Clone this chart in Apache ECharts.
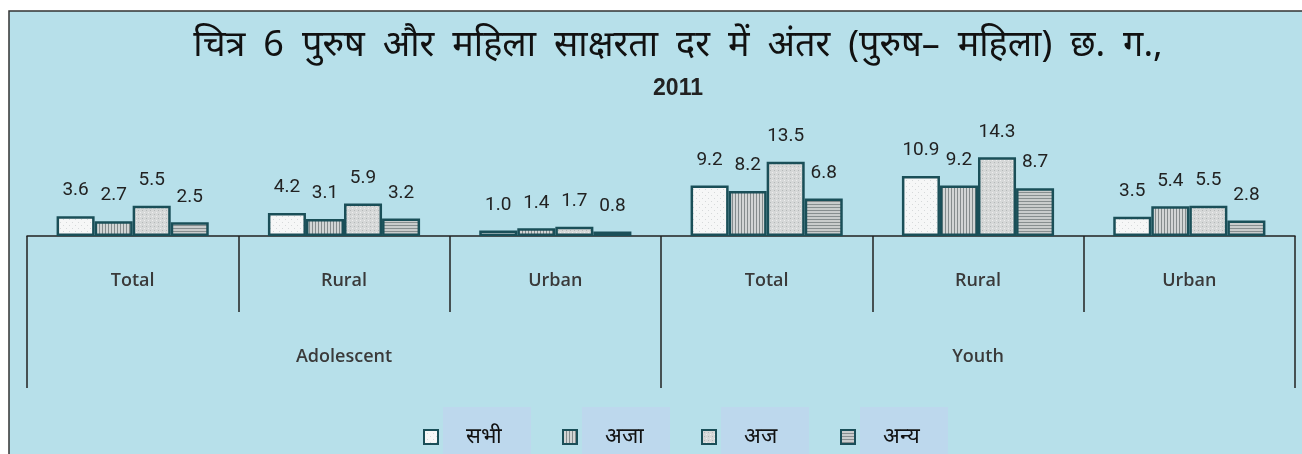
<!DOCTYPE html>
<html>
<head>
<meta charset="utf-8">
<script src="https://cdn.jsdelivr.net/npm/echarts@6/dist/echarts.min.js"></script>
<style>
  html, body { margin: 0; padding: 0; background: #fff; }
  #chart { width: 1302px; height: 454px; }
</style>
</head>
<body>
<div id="chart"></div>
<script>
// 数据
const titleLine = "चित्र 6 पुरुष और महिला साक्षरता दर में अंतर (पुरुष– महिला) छ. ग.,";
const subCategories = ["Total", "Rural", "Urban", "Total", "Rural", "Urban"];
const groupCategories = ["Adolescent", "Youth"];
const seriesNames = ["सभी", "अजा", "अज", "अन्य"];
const sabhi = [3.6, 4.2, 1.0, 9.2, 10.9, 3.5];
const aja = [2.7, 3.1, 1.4, 8.2, 9.2, 5.4];
const ajja = [5.5, 5.9, 1.7, 13.5, 14.3, 5.5];
const anya = [2.5, 3.2, 0.8, 6.8, 8.7, 2.8];

// 填充图案
function makePattern(w, h, bg, draw) {
  const c = document.createElement("canvas");
  c.width = w;
  c.height = h;
  const ctx = c.getContext("2d");
  ctx.fillStyle = bg;
  ctx.fillRect(0, 0, w, h);
  draw(ctx);
  return { image: c, repeat: "repeat" };
}
const patterns = [
  makePattern(6, 6, "#f6f7f7", (ctx) => {
    ctx.fillStyle = "#d6d9da";
    ctx.fillRect(0, 0, 1, 1);
    ctx.fillRect(3, 3, 1, 1);
  }),
  makePattern(3, 1, "#d2d5d5", (ctx) => {
    ctx.fillStyle = "#858c8d";
    ctx.fillRect(0, 0, 1, 1);
  }),
  makePattern(4, 4, "#d6d8d8", (ctx) => {
    ctx.fillStyle = "#eeeeee";
    ctx.fillRect(0, 0, 1, 1);
    ctx.fillStyle = "#b4b8b8";
    ctx.fillRect(2, 2, 1, 1);
  }),
  makePattern(1, 3, "#c9cccc", (ctx) => {
    ctx.fillStyle = "#878e8f";
    ctx.fillRect(0, 0, 1, 1);
  }),
];

const values = [sabhi, aja, ajja, anya];
const bg = "#b7e0ea";
const edge = "#1a4f58";

const myChart = echarts.init(document.getElementById("chart"));
myChart.setOption({
  animation: false,
  graphic: [
    {
      type: "rect",
      z: -10,
      shape: { x: 9, y: 11, width: 1400, height: 500 },
      style: { fill: bg, stroke: "#333", lineWidth: 1.5 },
    },
  ],
  title: {
    left: 678,
    textAlign: "center",
    top: 23,
    padding: 0,
    // 标题字间距较宽
    text: "{a|" + titleLine.split(" ").join("\u2002") + "}\n{b|2011}",
    textStyle: {
      fontWeight: "normal",
      rich: {
        a: { fontSize: 36, fontWeight: "normal", color: "#111", lineHeight: 46, fontFamily: "Noto Sans, sans-serif" },
        b: { fontSize: 23, fontWeight: "bold", color: "#222", lineHeight: 40, fontFamily: "Liberation Sans, Arial" },
      },
    },
  },
  legend: {
    top: 407,
    left: 423,
    padding: 0,
    icon: "rect",
    itemWidth: 14,
    itemHeight: 14,
    itemGap: 31,
    data: seriesNames,
    textStyle: {
      fontSize: 22,
      color: "#111",
      width: 50,
      lineHeight: 30,
      backgroundColor: "rgba(205,200,245,0.3)",
      padding: [20, 15, 10, 23],
    },
  },
  grid: { left: 27, right: 7, top: 148, bottom: 218 },
  xAxis: [
    {
      type: "category",
      data: subCategories,
      position: "bottom",
      axisLine: { show: true, lineStyle: { color: "#222", width: 1.5 } },
      axisTick: { show: true, length: 76, lineStyle: { color: "#222", width: 1.5 } },
      axisLabel: { margin: 36, fontSize: 18, fontWeight: 600, color: "#3a3a3a", fontFamily: "Open Sans" },
    },
    {
      type: "category",
      data: groupCategories,
      position: "bottom",
      axisLine: { show: false },
      axisTick: { show: true, length: 152, lineStyle: { color: "#222", width: 1.5 } },
      axisLabel: { margin: 112, fontSize: 18, fontWeight: 600, color: "#3a3a3a", fontFamily: "Open Sans" },
    },
  ],
  yAxis: {
    type: "value",
    min: 0,
    max: 16,
    show: false,
    splitLine: { show: false },
  },
  series: seriesNames.map((name, i) => ({
    name: name,
    type: "bar",
    xAxisIndex: 0,
    data: values[i],
    barGap: "0%",
    barCategoryGap: "28%",
    itemStyle: { color: patterns[i], borderColor: edge, borderWidth: 2.5 },
    label: {
      show: true,
      position: "top",
      distance: 16,
      fontSize: 19,
      color: "#222",
      fontFamily: "Roboto",
      formatter: (p) => p.value.toFixed(1),
    },
  })),
});
</script>
</body>
</html>
